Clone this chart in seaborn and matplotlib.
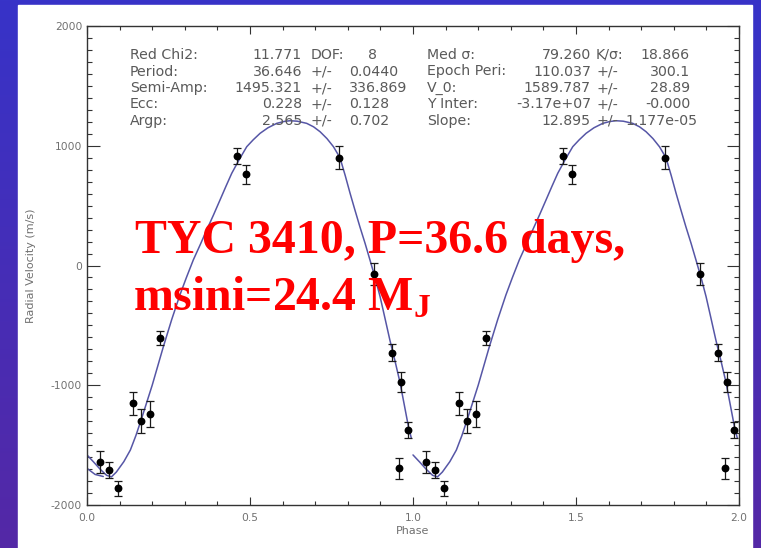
import numpy as np
import pandas as pd
import matplotlib
matplotlib.use("Agg")
import matplotlib.pyplot as plt
import seaborn as sns
from matplotlib.patches import Rectangle
from matplotlib.ticker import MultipleLocator, FixedLocator
from matplotlib.colors import LinearSegmentedColormap

# ---------------- data ----------------
# measured radial velocities folded on the orbital period
obs_phase = [0.040, 0.067, 0.095, 0.140, 0.166, 0.194, 0.224, 0.459,
             0.487, 0.774, 0.880, 0.935, 0.958, 0.962, 0.986]
obs_rv = [-1638, -1708, -1861, -1151, -1296, -1240, -608, 917,
          762, 900, -73, -728, -1694, -970, -1370]
obs_err = [93, 63, 60, 97, 100, 107, 60, 67,
           80, 97, 90, 70, 89, 84, 67]

# orbital fit sampled over one phase cycle
fit_phase = [0.000, 0.020, 0.040, 0.060, 0.075, 0.090, 0.113, 0.133,
             0.150, 0.166, 0.183, 0.200, 0.217, 0.234, 0.260, 0.285,
             0.305, 0.326, 0.347, 0.367, 0.388, 0.408, 0.426, 0.444,
             0.467, 0.490, 0.510, 0.531, 0.555, 0.582, 0.605, 0.623,
             0.645, 0.674, 0.695, 0.715, 0.736, 0.756, 0.776, 0.792,
             0.807, 0.822, 0.837, 0.853, 0.868, 0.884, 0.899, 0.914,
             0.929, 0.945, 0.960, 0.973, 0.986, 0.995]
fit_rv = [-1582, -1640, -1700, -1752, -1765, -1725, -1638, -1541,
          -1420, -1290, -1145, -1000, -840, -680, -450, -246,
          -100, 46, 172, 296, 422, 547, 660, 770,
          885, 992, 1050, 1104, 1150, 1187, 1203, 1209,
          1205, 1187, 1158, 1117, 1060, 992, 900, 752,
          603, 462, 324, 185, 46, -105, -260, -440,
          -622, -800, -975, -1160, -1346, -1443]
# short wrap-around piece of the fit at the start of the first cycle
wrap_phase = [0.000, 0.025, 0.050]
wrap_rv = [-1694, -1745, -1762]

xtick_vals = [0.0, 0.5, 1.0, 1.5, 2.0]
xtick_labels = ["0.0", "0.5", "1.0", "1.5", "2.0"]
ytick_vals = [-2000, -1000, 0, 1000, 2000]
ytick_labels = ["-2000", "-1000", "0", "1000", "2000"]

left_names = ["Red Chi2:", "Period:", "Semi-Amp:", "Ecc:", "Argp:"]
left_values = ["11.771", "36.646", "1495.321", "0.228", "2.565"]
left_seps = ["DOF:", "+/-", "+/-", "+/-", "+/-"]
left_errs = ["8", "0.0440", "336.869", "0.128", "0.702"]

right_names = ["Med \u03c3:", "Epoch Peri:", "V_0:", "Y Inter:", "Slope:"]
right_values = ["79.260", "110.037", "1589.787", "-3.17e+07", "12.895"]
right_seps = ["K/\u03c3:", "+/-", "+/-", "+/-", "+/-"]
right_errs = ["18.866", "300.1", "28.89", "-0.000", "1.177e-05"]

title_line1 = "TYC 3410, P=36.6 days,"
title_line2 = r"msini=24.4 M$_\mathbf{J}$"

# ---------------- style ----------------
sns.set_theme(style="ticks")
plt.rcParams["font.family"] = ["DejaVu Sans"]
plt.rcParams["mathtext.fontset"] = "custom"
plt.rcParams["mathtext.rm"] = "Liberation Serif:bold"
plt.rcParams["mathtext.bf"] = "Liberation Serif:bold"

W, H = 761, 548
fig = plt.figure(figsize=(W / 100, H / 100), dpi=100)


def fx(px):
    return px / W


def fy(py):
    return 1 - py / H


# slide background with white panel
bg = fig.add_axes([0, 0, 1, 1], zorder=-10)
cmap = LinearSegmentedColormap.from_list("slide", ["#3733c8", "#5428a6"])
bg.imshow(np.linspace(0, 1, 256)[:, None], aspect="auto", cmap=cmap,
          extent=[0, 1, 0, 1], origin="upper")
bg.add_patch(Rectangle((fx(18), 0), fx(752) - fx(18), fy(5), color="white"))
bg.set_xlim(0, 1)
bg.set_ylim(0, 1)
bg.axis("off")

ax = fig.add_axes([fx(87), fy(505), fx(739) - fx(87), fy(26) - fy(505)])
ax.set_facecolor("white")

# fitted curve, repeated for two cycles
fit_df = pd.concat([
    pd.DataFrame({"phase": fit_phase, "rv": fit_rv, "seg": "c1"}),
    pd.DataFrame({"phase": np.array(fit_phase) + 1.0, "rv": fit_rv, "seg": "c2"}),
    pd.DataFrame({"phase": wrap_phase, "rv": wrap_rv, "seg": "w"}),
], ignore_index=True)
sns.lineplot(data=fit_df, x="phase", y="rv", units="seg", estimator=None,
             color="#5656a6", lw=1.1, ax=ax, legend=False)

# observations, repeated for two cycles
obs_df = pd.DataFrame({
    "phase": np.concatenate([obs_phase, np.array(obs_phase) + 1.0]),
    "rv": np.concatenate([obs_rv, obs_rv]),
    "err": np.concatenate([obs_err, obs_err]),
})
ax.errorbar(obs_df["phase"], obs_df["rv"], yerr=obs_df["err"], fmt="none",
            ecolor="#1a1a1a", elinewidth=0.9, capsize=2.6, capthick=0.9, zorder=3)
sns.scatterplot(data=obs_df, x="phase", y="rv", color="black", s=32,
                linewidth=0, ax=ax, zorder=4, legend=False)

# axes
ax.set_xlim(0, 2)
ax.set_ylim(-2000, 2000)
ax.xaxis.set_major_locator(FixedLocator(xtick_vals))
ax.set_xticklabels(xtick_labels)
ax.yaxis.set_major_locator(FixedLocator(ytick_vals))
ax.set_yticklabels(ytick_labels)
ax.xaxis.set_minor_locator(MultipleLocator(0.1))
ax.yaxis.set_minor_locator(MultipleLocator(100))
ax.tick_params(which="both", direction="in", top=True, right=True,
               color="#333333", width=0.8, labelsize=7.7, labelcolor="#707070")
ax.tick_params(axis="y", which="major", length=9, pad=3.5)
ax.tick_params(axis="y", which="minor", length=3.5)
ax.tick_params(axis="x", which="major", length=6, pad=6)
ax.tick_params(axis="x", which="minor", length=3)
for sp in ax.spines.values():
    sp.set_color("#333333")
    sp.set_linewidth(1.0)
ax.set_xlabel("Phase", fontsize=8, color="#707070", labelpad=2)
ax.set_ylabel("Radial Velocity (m/s)", fontsize=8, color="#707070", labelpad=11)

# fit statistics
row_base = [59, 75.5, 92, 108.5, 125]
txt = dict(fontsize=10.2, color="#5a5a5a", va="baseline")
left_err_x = [368, 349, 349, 349, 349]
for i in range(5):
    y = fy(row_base[i])
    fig.text(fx(130), y, left_names[i], ha="left", **txt)
    fig.text(fx(302), y, left_values[i], ha="right", **txt)
    fig.text(fx(311), y, left_seps[i], ha="left", **txt)
    fig.text(fx(left_err_x[i]), y, left_errs[i], ha="left", **txt)
    fig.text(fx(427), y, right_names[i], ha="left", **txt)
    fig.text(fx(591), y, right_values[i], ha="right", **txt)
    fig.text(fx(596), y, right_seps[i], ha="left", **txt)
    fig.text(fx(690 if i < 4 else 698), y, right_errs[i], ha="right", **txt)

# headline
head = dict(fontsize=34.5, fontweight="bold", family="Liberation Serif",
            color="#ff0000", va="baseline", ha="left", zorder=10)
fig.text(fx(135), fy(253), title_line1, **head)
fig.text(fx(133), fy(310), title_line2, **head)

fig.savefig("out.png", dpi=100)
